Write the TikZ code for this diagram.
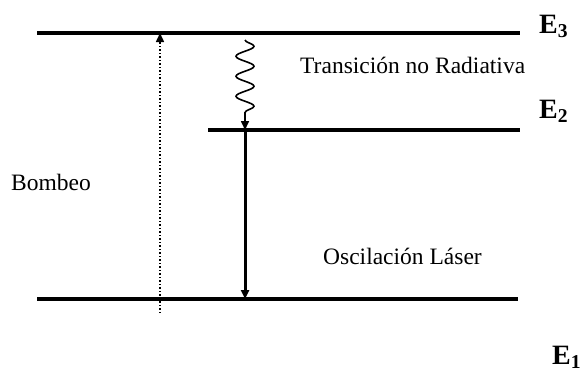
\documentclass[tikz,border=0pt]{standalone}
\usepackage{fontspec}
\setmainfont{Liberation Serif}
\usetikzlibrary{arrows.meta,decorations.pathmorphing}

\begin{document}
\begin{tikzpicture}[x=1pt,y=-1pt,
  level/.style={line width=3.6pt},
  label/.style={font=\fontsize{23.5}{27}\selectfont,inner sep=0pt,anchor=base west},
  elabel/.style={font=\fontsize{28}{32}\selectfont\bfseries,inner sep=0pt,anchor=base west},
  tip/.style={-{Triangle[length=9pt,width=8pt]}}
]
\useasboundingbox (0,0) rectangle (585,372);
% energy levels
\coordinate (e3a) at (37,33);   \coordinate (e3b) at (520,33);
\coordinate (e2a) at (208,130); \coordinate (e2b) at (520,130);
\coordinate (e1a) at (37,299);  \coordinate (e1b) at (518,299);
\draw[level] (e3a) -- (e3b);
\draw[level] (e2a) -- (e2b);
\draw[level] (e1a) -- (e1b);
\node[elabel] (e3) at (539,33) {E\textsubscript{3}};
\node[elabel] (e2) at (539,118) {E\textsubscript{2}};
\node[elabel] (e1) at (552,364) {E\textsubscript{1}};
% pumping
\coordinate (pumpbot) at (160,313);
\coordinate (pumptop) at (160,33);
\draw[tip,dotted,line width=1.5pt] (pumpbot) -- (pumptop);
\node[label] (pump) at (11,190) {Bombeo};
% non radiative decay
\coordinate (wavetop) at (245,40);
\coordinate (wavebot) at (245,120);
\coordinate (wavetip) at (245,130);
\draw[line width=1.6pt,decorate,decoration={snake,amplitude=9pt,segment length=20pt}] (wavetop) -- (wavebot);
\draw[tip,line width=1.6pt] (wavebot) -- (wavetip);
\node[label] (nonrad) at (300,73) {Transición no Radiativa};
% laser
\coordinate (lasertop) at (245,130);
\coordinate (laserbot) at (245,299);
\draw[tip,line width=3pt] (lasertop) -- (laserbot);
\node[label] (laser) at (323,264) {Oscilación Láser};
\end{tikzpicture}
\end{document}
